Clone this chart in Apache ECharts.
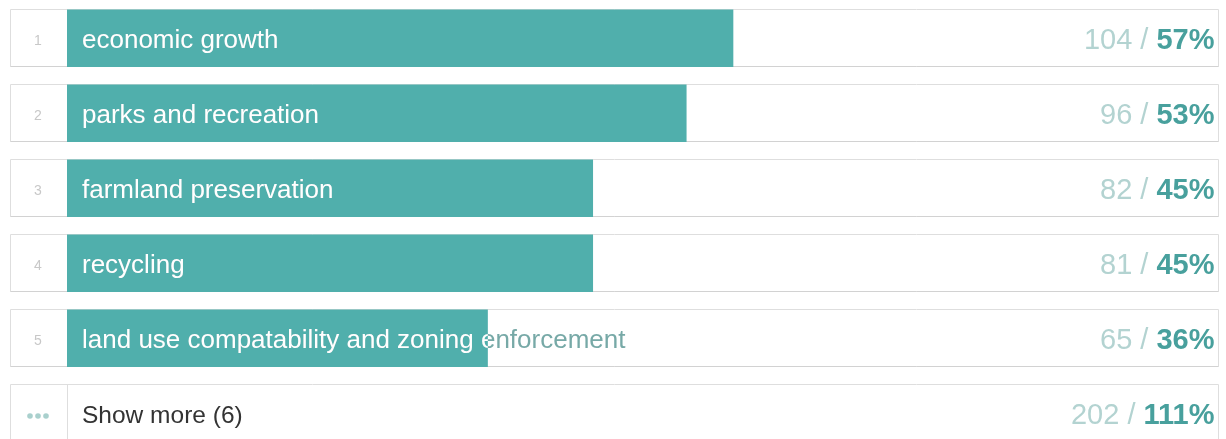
<!DOCTYPE html>
<html>
<head>
<meta charset="utf-8">
<script src="https://cdn.jsdelivr.net/npm/echarts@6/dist/echarts.min.js"></script>
<style>
  html, body { margin: 0; padding: 0; background: #ffffff; }
  #chart { width: 1226px; height: 439px; }
</style>
</head>
<body>
<div id="chart"></div>
<script>
// Ranked answers: label, number of votes and share of respondents
const ranks = ['1', '2', '3', '4', '5'];
const topics = [
  'economic growth',
  'parks and recreation',
  'farmland preservation',
  'recycling',
  'land use compatability and zoning enforcement'
];
const counts = [104, 96, 82, 81, 65];
const percents = [57, 53, 45, 45, 36];

// Collapsed remainder row
const moreLabel = 'Show more (6)';
const moreCount = 202;
const morePercent = 111;

const FONT = "'Liberation Sans', Arial, Helvetica, sans-serif";
const TEAL = '#50afac';
const BOX_H = 57;
const TEXT_DY = 3.5;

const categories = topics.concat([moreLabel]);
const rows = topics.map((t, i) => [percents[i], i, counts[i], 0]);
rows.push([morePercent, topics.length, moreCount, 1]);

const chart = echarts.init(document.getElementById('chart'), null, { renderer: 'canvas' });

function renderRow(params, api) {
  const pct = api.value(0);
  const idx = api.value(1);
  const count = api.value(2);
  const isMore = api.value(3) === 1;

  const origin = api.coord([0, idx]);
  const cy = origin[1];
  const ty = cy + TEXT_DY;
  const x0 = origin[0];
  const top = Math.round(cy - BOX_H / 2) + 0.5;
  const left = 10.5;
  const right = api.getWidth() - 7.5;
  const children = [];

  // Row frame
  children.push({
    type: 'rect',
    shape: { x: left, y: top, width: right - left, height: BOX_H },
    style: { fill: '#ffffff', stroke: '#dedede', lineWidth: 1 }
  });
  children.push({
    type: 'line',
    shape: { x1: left, y1: top + BOX_H, x2: right, y2: top + BOX_H },
    style: { stroke: '#d2d2d2', lineWidth: 1 }
  });

  const labelX = x0 + 15;
  const labelText = categories[idx];
  const labelFont = '26px ' + FONT;

  if (!isMore) {
    const xEnd = api.coord([pct, idx])[0];
    const barRect = { x: x0, y: top, width: xEnd - x0, height: BOX_H + 0.5 };
    children.push({
      type: 'rect',
      shape: barRect,
      style: { fill: TEAL }
    });
    // Rank number
    children.push({
      type: 'text',
      x: 38, y: ty,
      style: {
        text: ranks[idx], fill: '#c8c8c8', font: '14px ' + FONT,
        align: 'center', verticalAlign: 'middle',
        textAlign: 'center', textVerticalAlign: 'middle'
      }
    });
    // Label outside the bar
    children.push({
      type: 'text',
      x: labelX, y: ty,
      style: {
        text: labelText, fill: '#77a9a7', font: labelFont,
        align: 'left', verticalAlign: 'middle',
        textAlign: 'left', textVerticalAlign: 'middle'
      }
    });
    // Label inside the bar, clipped to the bar
    children.push({
      type: 'text',
      x: labelX, y: ty,
      style: {
        text: labelText, fill: '#ffffff', font: labelFont,
        align: 'left', verticalAlign: 'middle',
        textAlign: 'left', textVerticalAlign: 'middle'
      },
      clipPath: {
        type: 'rect',
        shape: { x: barRect.x - labelX, y: barRect.y - ty, width: barRect.width, height: barRect.height }
      }
    });
  } else {
    // Divider between the marker cell and the label
    children.push({
      type: 'line',
      shape: { x1: Math.round(x0) + 0.5, y1: top, x2: Math.round(x0) + 0.5, y2: top + BOX_H },
      style: { stroke: '#dedede', lineWidth: 1 }
    });
    [-8, 0, 8].forEach(function (dx) {
      children.push({
        type: 'circle',
        shape: { cx: 38 + dx, cy: ty, r: 2.8 },
        style: { fill: '#a9d0cd' }
      });
    });
    children.push({
      type: 'text',
      x: labelX, y: ty,
      style: {
        text: labelText, fill: '#333333', font: '24.5px ' + FONT,
        align: 'left', verticalAlign: 'middle',
        textAlign: 'left', textVerticalAlign: 'middle'
      }
    });
  }

  // Count / percent on the right
  children.push({
    type: 'text',
    x: right - 4, y: ty,
    style: {
      text: '{c|' + count + ' / }{p|' + pct + '%}',
      align: 'right', verticalAlign: 'middle',
      textAlign: 'right', textVerticalAlign: 'middle',
      rich: {
        c: { fill: '#b3d3d1', color: '#b3d3d1', font: '29px ' + FONT, fontSize: 29, fontFamily: FONT },
        p: { fill: '#48a09d', color: '#48a09d', font: 'bold 29px ' + FONT, fontSize: 29, fontWeight: 'bold', fontFamily: FONT }
      }
    }
  });

  return { type: 'group', children: children };
}

chart.setOption({
  animation: false,
  grid: { left: 67, right: -10, top: 0, height: 450, outerBoundsMode: 'none', containLabel: false },
  xAxis: {
    type: 'value', min: 0, max: 100,
    show: false
  },
  yAxis: {
    type: 'category', data: categories, inverse: true,
    show: false
  },
  series: [{
    type: 'custom',
    clip: false,
    renderItem: renderRow,
    encode: { x: 0, y: 1 },
    data: rows
  }]
});
</script>
</body>
</html>
